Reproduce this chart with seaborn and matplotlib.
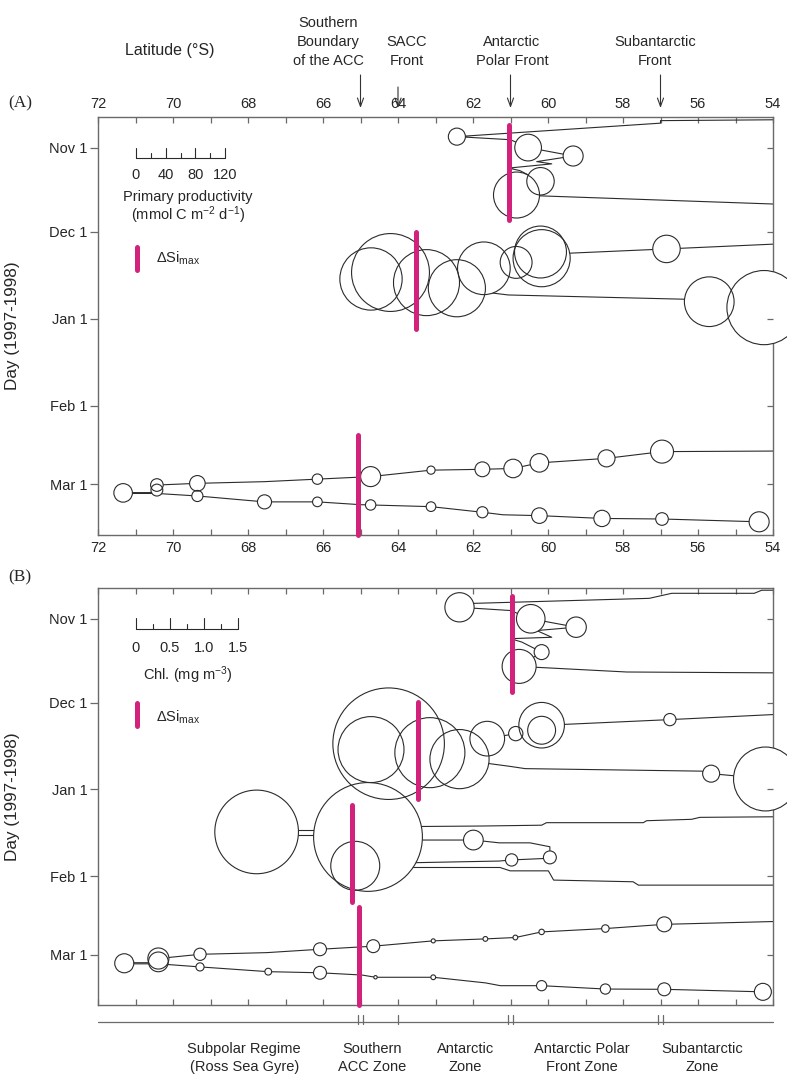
import numpy as np
import pandas as pd
import matplotlib
matplotlib.use("Agg")
import matplotlib.pyplot as plt
import seaborn as sns

sns.set_theme(style="white")
plt.rcParams['font.family'] = ['Liberation Sans', 'DejaVu Sans']
plt.rcParams['mathtext.fontset'] = 'custom'
plt.rcParams['mathtext.rm'] = 'Liberation Sans'
plt.rcParams['mathtext.it'] = 'Liberation Sans:italic'
plt.rcParams['mathtext.default'] = 'regular'

# ---------------- data ----------------
month_days = [0, 30, 61, 92, 120]
month_labels = ["Nov 1", "Dec 1", "Jan 1", "Feb 1", "Mar 1"]
lat_major = [72, 70, 68, 66, 64, 62, 60, 58, 56, 54]

front_lats = [65, 64, 61, 57]
front_names = ["Southern\nBoundary\nof the ACC", "SACC\nFront", "Antarctic\nPolar Front", "Subantarctic\nFront"]
zone_edges = [65, 64, 61, 57]
zone_names = ["Subpolar Regime\n(Ross Sea Gyre)", "Southern\nACC Zone", "Antarctic\nZone",
              "Antarctic Polar\nFront Zone", "Subantarctic\nZone"]
zone_centers = [68.1, 64.7, 62.2, 59.1, 55.9]

# ---- Panel A: ship tracks (latitude, day since Nov 1 1997) ----
a_trk1_lat = [54.0, 57.0, 57.0, 62.43, 61.0, 60.53, 59.33, 60.3, 59.9, 61.05, 60.75, 60.2, 60.84, 54.0]
a_trk1_day = [-9.9, -9.6, -8.7, -3.9, -2.8, 0.0, 3.0, 5.0, 5.8, 7.3, 8.2, 12.0, 16.9, 20.1]
a_trk2_lat = [54.0, 56.84, 59.4, 60.2, 60.85, 61.7, 64.2, 64.72, 63.24, 62.43, 61.55, 61.06, 56.4, 55.7, 54.24]
a_trk2_day = [34.4, 36.1, 37.6, 38.5, 40.9, 43.0, 44.5, 46.8, 48.1, 50.1, 51.7, 52.5, 54.0, 54.9, 56.5]
a_trk3_lat = [54.0, 56.96, 58.44, 60.23, 60.93, 61.75, 63.12, 64.73, 66.15, 67.56, 69.35, 70.43, 70.43, 71.33]
a_trk3_day = [108.1, 108.3, 110.7, 112.3, 114.3, 114.6, 114.9, 117.2, 118.1, 119.0, 119.6, 120.2, 122.9, 122.9]
a_trk4_lat = [71.33, 70.43, 69.35, 67.56, 66.15, 65.0, 64.73, 63.12, 61.75, 61.2, 60.23, 58.56, 56.96, 54.37]
a_trk4_day = [123.2, 123.2, 124.1, 126.2, 126.2, 127.2, 127.3, 127.9, 129.9, 130.8, 131.1, 132.1, 132.3, 133.3]

# ---- Panel A: stations, primary productivity (mmol C m-2 d-1) ----
a_stn_lat = [62.43, 60.53, 59.33, 60.2, 60.84,
             56.84, 60.2, 60.17, 60.85, 61.71, 64.2, 64.72, 63.24, 62.43, 55.7, 54.24,
             56.96, 58.44, 60.23, 60.93, 61.75, 63.12, 64.73, 66.15, 69.35, 70.43, 70.43, 71.33,
             69.35, 67.56, 66.15, 64.73, 63.12, 61.75, 60.23, 58.56, 56.96, 54.37]
a_stn_day = [-3.9, 0.0, 3.0, 12.0, 16.9,
             36.1, 37.2, 39.4, 40.9, 43.0, 44.5, 46.8, 48.1, 50.1, 54.9, 57.0,
             108.3, 110.7, 112.3, 114.3, 114.6, 114.9, 117.2, 118.1, 119.6, 120.2, 122.0, 123.0,
             124.1, 126.2, 126.2, 127.3, 127.9, 129.9, 131.1, 132.1, 132.3, 133.3]
a_stn_pp = [23, 36, 27, 37, 62,
            37, 70, 77, 43, 71, 105, 84, 89, 77, 67, 100,
            31, 23, 25, 25, 20, 11, 27, 14, 21, 17, 16, 25,
            15, 19, 13, 14, 13, 15, 21, 22, 17, 27]

# ---- Panel A: Delta Si max ----
a_si_lat = [61.03, 63.53, 65.07]
a_si_day0 = [-8.1, 30.0, 102.4]
a_si_day1 = [25.8, 64.5, 138.0]

# ---- Panel B: ship tracks ----
b_trk1_lat = [54.0, 54.3, 54.5, 56.7, 57.3, 62.0, 62.36, 61.0, 60.46, 59.25, 60.3, 59.9, 61.0, 60.7, 60.17, 60.77, 57.9, 54.0]
b_trk1_day = [-10.1, -10.1, -9.0, -9.0, -7.2, -5.4, -4.0, -2.85, 0.1, 3.1, 4.3, 6.7, 7.2, 8.4, 12.0, 17.1, 19.1, 19.4]
b_trk2_lat = [54.0, 56.75, 59.55, 60.17, 60.86, 61.62, 64.25, 64.72, 63.15, 62.36, 61.57, 61.01, 60.61, 55.9, 55.65, 54.26]
b_trk2_day = [34.3, 36.1, 37.8, 38.1, 41.1, 42.9, 44.7, 46.8, 47.9, 50.2, 51.8, 52.8, 53.6, 54.5, 55.4, 57.1]
b_trk3_lat = [64.8, 61.81, 60.17, 60.04, 57.46, 57.37, 56.17, 55.95, 54.0]
b_trk3_day = [74.4, 74.1, 73.8, 72.9, 72.9, 72.2, 71.7, 71.0, 70.8]
b_trk4_lat = [67.77, 64.8]
b_trk4_day = [75.5, 75.5]
b_trk5_lat = [67.77, 64.8]
b_trk5_day = [77.3, 77.3]
b_trk6_lat = [64.8, 61.99, 61.3, 60.48, 59.95, 59.95]
b_trk6_day = [79.1, 79.1, 80.1, 80.1, 81.5, 85.3]
b_trk7_lat = [64.8, 63.6, 61.3, 60.97, 59.95]
b_trk7_day = [87.4, 87.2, 86.6, 86.2, 85.6]
b_trk8_lat = [64.8, 61.28, 61.01, 59.99, 59.85, 57.73, 57.59, 54.0]
b_trk8_day = [88.9, 88.9, 90.1, 90.1, 93.4, 94.0, 95.2, 95.2]
b_trk9_lat = [54.0, 56.9, 58.47, 60.17, 60.87, 61.67, 63.06, 64.66, 66.08, 67.5, 69.28, 70.39, 70.39, 71.3]
b_trk9_day = [108.2, 109.2, 110.7, 111.9, 113.9, 114.4, 115.1, 117.0, 118.1, 119.3, 119.9, 121.4, 122.9, 122.9]
b_trk10_lat = [71.3, 70.39, 69.28, 67.46, 66.08, 64.96, 64.6, 63.06, 61.67, 61.27, 60.17, 58.47, 56.9, 54.27]
b_trk10_day = [123.3, 123.3, 124.4, 126.1, 126.5, 127.3, 128.1, 128.1, 130.1, 131.1, 131.1, 132.3, 132.4, 133.3]

# ---- Panel B: stations, chlorophyll (mg m-3) ----
b_stn_lat = [62.36, 60.46, 59.25, 60.17, 60.77,
             56.75, 60.17, 60.17, 60.86, 61.62, 64.25, 64.72, 63.15, 62.36, 55.65, 54.2,
             67.77, 64.8, 65.14, 61.99, 59.95, 60.97,
             56.9, 58.47, 60.17, 60.87, 61.67, 63.06, 64.66, 66.08, 69.28, 70.39, 70.39, 71.3,
             69.28, 67.46, 66.08, 64.6, 63.06, 60.17, 58.47, 56.9, 54.27]
b_stn_day = [-4.0, 0.1, 3.1, 12.0, 17.1,
             36.1, 38.1, 39.9, 41.1, 42.9, 44.7, 46.8, 47.9, 50.2, 55.4, 57.3,
             76.2, 78.0, 88.3, 79.1, 85.3, 86.2,
             109.2, 110.7, 111.9, 113.9, 114.4, 115.1, 117.0, 118.1, 119.9, 121.4, 122.6, 123.1,
             124.4, 126.1, 126.5, 128.1, 128.1, 131.1, 132.3, 132.4, 133.3]
b_stn_chl = [0.43, 0.42, 0.30, 0.22, 0.50,
             0.18, 0.67, 0.41, 0.21, 0.51, 1.64, 0.97, 1.03, 0.87, 0.25, 0.94,
             1.23, 1.60, 0.72, 0.29, 0.19, 0.18,
             0.22, 0.11, 0.08, 0.07, 0.07, 0.06, 0.19, 0.19, 0.18, 0.31, 0.29, 0.28,
             0.12, 0.10, 0.19, 0.05, 0.07, 0.15, 0.15, 0.19, 0.25]

# ---- Panel B: Delta Si max ----
b_si_lat = [60.96, 63.46, 65.24, 65.04]
b_si_day0 = [-8.2, 29.8, 66.6, 103.1]
b_si_day1 = [26.3, 64.3, 101.1, 138.0]

# ---------------- layout / style ----------------
DPI = 100
FW, FH = 787, 1076
X0, X1 = 98, 773
A_T, A_B = 116.7, 535.0
B_T, B_B = 587.7, 1005.0
PX_PER_DEG = (X1 - X0) / 18.0
A_PX_PER_UNIT = 89.0 / 120.0
B_PX_PER_UNIT = 102.0 / 1.5
LINE_C = "#2b2b2b"
FRAME_C = "#6a6a6a"
MAG = "#D3227B"
FS = 10.5


def px2day(y, top):
    return (y - top) / ((A_B - A_T) / (138 + 11)) - 11


def make_ax(top, bot):
    ax = fig.add_axes([X0 / FW, 1 - bot / FH, (X1 - X0) / FW, (bot - top) / FH])
    ax.set_xlim(72, 54)
    ax.set_ylim(138, -11)
    for s in ax.spines.values():
        s.set_color(FRAME_C)
        s.set_linewidth(1.0)
    ax.set_xticks(lat_major)
    ax.set_xticks(range(54, 73), minor=True)
    ax.set_xticklabels([str(v) for v in lat_major])
    ax.tick_params(axis='x', which='both', direction='in', top=True, bottom=True,
                   length=4.3, width=0.9, color=FRAME_C, labelsize=FS, pad=4)
    ax.set_yticks(month_days)
    ax.set_yticklabels(month_labels)
    ax.tick_params(axis='y', which='major', direction='out', left=True, right=False,
                   length=5.5, width=0.9, color=FRAME_C, labelsize=FS, pad=2)
    ax2 = ax.twinx()
    ax2.set_ylim(138, -11)
    ax2.set_yticks(month_days)
    ax2.tick_params(axis='y', direction='in', length=4.3, width=0.9, color=FRAME_C,
                    labelright=False, right=True)
    for s in ax2.spines.values():
        s.set_visible(False)
    ax.set_ylabel("Day (1997-1998)", fontsize=12.3)
    ax.yaxis.set_label_coords((20 - X0) / (X1 - X0), 0.5)
    return ax


def draw_tracks(ax, tracks):
    rows = []
    for i, (la, da) in enumerate(tracks):
        for a, d in zip(la, da):
            rows.append((i, a, d))
    df = pd.DataFrame(rows, columns=["seg", "lat", "day"])
    sns.lineplot(data=df, x="lat", y="day", units="seg", estimator=None, sort=False,
                 color=LINE_C, lw=0.8, legend=False, ax=ax, zorder=2)


def draw_stations(ax, lat, day, val, px_per_unit):
    df = pd.DataFrame({"lat": lat, "day": day, "val": val})
    sizes = {v: (v * px_per_unit * 72.0 / DPI) ** 2 for v in df["val"].unique()}
    sns.scatterplot(data=df, x="lat", y="day", size="val", sizes=sizes, legend=False, ax=ax,
                    facecolor="white", edgecolor="none", linewidth=0, zorder=3, clip_on=False)
    sns.scatterplot(data=df, x="lat", y="day", size="val", sizes=sizes, legend=False, ax=ax,
                    facecolor="none", edgecolor=LINE_C, linewidth=0.8, zorder=4, clip_on=False)


def draw_si(ax, lats, d0, d1):
    for la, a, b in zip(lats, d0, d1):
        ax.plot([la, la], [a, b], color=MAG, lw=3.6, solid_capstyle="round", zorder=6, clip_on=False)


def draw_scale(ax, top, ticks, major, labels, px_per_unit, base_y, lab_y, title_lines, title_y):
    lat0 = 72 - (136 - X0) / PX_PER_DEG
    k = px_per_unit / PX_PER_DEG
    yb = px2day(base_y, top)
    ax.plot([lat0, lat0 - k * ticks[-1]], [yb, yb], color=LINE_C, lw=0.8, zorder=5)
    for t in ticks:
        h = 10.7 if t in major else 5.0
        ax.plot([lat0 - k * t] * 2, [yb, px2day(base_y - h, top)], color=LINE_C, lw=0.8, zorder=5)
    for t, lab in zip(major, labels):
        ax.text(lat0 - k * t, px2day(lab_y, top), lab, ha="center", va="center", fontsize=FS)
    for txt, yy in zip(title_lines, title_y):
        ax.text(72 - (188 - X0) / PX_PER_DEG, px2day(yy, top), txt, ha="center", va="center", fontsize=FS)


def draw_si_legend(ax, top, y0, y1, ty):
    la = 72 - (137 - X0) / PX_PER_DEG
    ax.plot([la, la], [px2day(y0, top), px2day(y1, top)], color=MAG, lw=3.6,
            solid_capstyle="round", zorder=6)
    ax.text(72 - (156 - X0) / PX_PER_DEG, px2day(ty, top), r"$\Delta$Si$_{\mathrm{max}}$",
            ha="left", va="center", fontsize=FS)


fig = plt.figure(figsize=(FW / DPI, FH / DPI), dpi=DPI)

# ---------------- Panel A ----------------
axA = make_ax(A_T, A_B)
axA.tick_params(axis='x', labeltop=True, labelbottom=True)
draw_tracks(axA, [(a_trk1_lat, a_trk1_day), (a_trk2_lat, a_trk2_day),
                  (a_trk3_lat, a_trk3_day), (a_trk4_lat, a_trk4_day)])
draw_stations(axA, a_stn_lat, a_stn_day, a_stn_pp, A_PX_PER_UNIT)
draw_si(axA, a_si_lat, a_si_day0, a_si_day1)
draw_scale(axA, A_T, [0, 20, 40, 60, 80, 100, 120], [0, 40, 80, 120], ["0", "40", "80", "120"],
           A_PX_PER_UNIT, 158.3, 175, ["Primary productivity", r"(mmol C m$^{-2}$ d$^{-1}$)"], [197, 215])
draw_si_legend(axA, A_T, 247, 270, 258)
axA.set_xlabel("")

# fronts annotations
for la, name in zip(front_lats, front_names):
    y_start = 87 if la == 64 else 75
    axA.annotate("", xy=(la, FH - 108), xycoords=("data", "figure pixels"),
                 xytext=(la, FH - y_start), textcoords=("data", "figure pixels"),
                 arrowprops=dict(arrowstyle="->,head_length=0.6,head_width=0.22", color="#333333",
                                 lw=0.8, shrinkA=0, shrinkB=0, mutation_scale=10))
text_x = {65: 328, 64: 407, 61: 512, 57: 655}
for la, name in zip(front_lats, front_names):
    nlines = name.count("\n") + 1
    yc = 42 if nlines == 3 else 51.5
    fig.text(text_x[la] / FW, 1 - yc / FH, name, ha="center", va="center", fontsize=FS,
             linespacing=1.45)
fig.text(170 / FW, 1 - 50 / FH, "Latitude (\u00b0S)", ha="center", va="center", fontsize=11.5)
fig.text(20 / FW, 1 - 103 / FH, "(A)", ha="center", va="center", fontsize=12.5, family="Liberation Serif")

# ---------------- Panel B ----------------
axB = make_ax(B_T, B_B)
axB.tick_params(axis='x', labeltop=False, labelbottom=False)
draw_tracks(axB, [(b_trk1_lat, b_trk1_day), (b_trk2_lat, b_trk2_day), (b_trk3_lat, b_trk3_day),
                  (b_trk4_lat, b_trk4_day), (b_trk5_lat, b_trk5_day), (b_trk6_lat, b_trk6_day),
                  (b_trk7_lat, b_trk7_day), (b_trk8_lat, b_trk8_day), (b_trk9_lat, b_trk9_day),
                  (b_trk10_lat, b_trk10_day)])
draw_stations(axB, b_stn_lat, b_stn_day, b_stn_chl, B_PX_PER_UNIT)
draw_si(axB, b_si_lat, b_si_day0, b_si_day1)
draw_scale(axB, B_T, [0, 0.25, 0.5, 0.75, 1.0, 1.25, 1.5], [0, 0.5, 1.0, 1.5], ["0", "0.5", "1.0", "1.5"],
           B_PX_PER_UNIT, 629, 648, [r"Chl. (mg m$^{-3}$)"], [675])
draw_si_legend(axB, B_T, 703, 726, 718)
axB.set_xlabel("")
fig.text(20 / FW, 1 - 577 / FH, "(B)", ha="center", va="center", fontsize=12.5, family="Liberation Serif")

# zone bracket below panel B
tr = axB.get_xaxis_transform()
yl = (B_B - 1021.5) / (B_B - B_T)
yt0 = (B_B - 1014.5) / (B_B - B_T)
yt1 = (B_B - 1024) / (B_B - B_T)
axB.plot([72, 54], [yl, yl], color=FRAME_C, lw=0.9, transform=tr, clip_on=False)
for e in zone_edges:
    offs = [0.0] if e == 64 else [-0.06, 0.06]
    for o in offs:
        axB.plot([e + o, e + o], [yt0, yt1], color=FRAME_C, lw=0.9, transform=tr, clip_on=False)
yz = (B_B - 1058) / (B_B - B_T)
for c, n in zip(zone_centers, zone_names):
    axB.text(c, yz, n, transform=tr, ha="center", va="center", fontsize=FS, linespacing=1.3)

fig.savefig("out.png", dpi=DPI)
